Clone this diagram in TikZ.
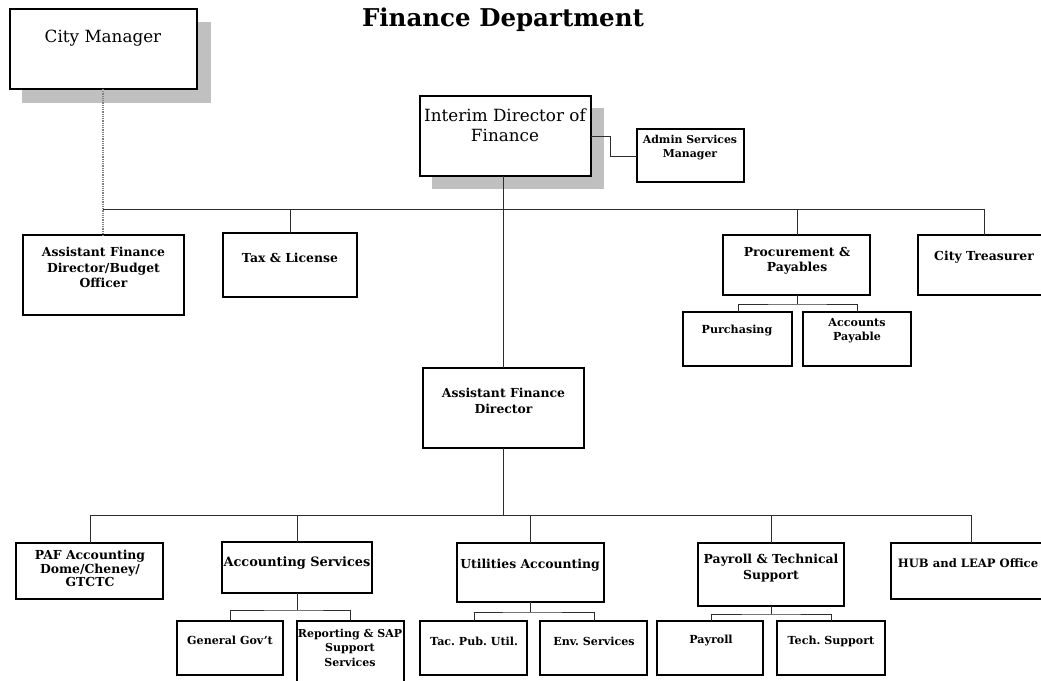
\documentclass[tikz,border=0pt]{standalone}
\usepackage{fontspec}
\setmainfont{DejaVu Serif}
\frenchspacing
\definecolor{shadowgray}{RGB}{192,192,192}
\definecolor{linegray}{RGB}{45,45,45}
\definecolor{dotgray}{RGB}{130,130,130}
\begin{document}
\begin{tikzpicture}[x=1pt,y=-1pt,
  box/.style={draw=black, line width=1.2pt, fill=white, inner sep=0pt, outer sep=0pt, anchor=north west},
  shadowbox/.style={fill=shadowgray, inner sep=0pt, outer sep=0pt, anchor=north west},
  conn/.style={draw=linegray, line width=1pt},
  dotconn/.style={draw=dotgray, line width=1.1pt, dash pattern=on 1pt off 0.8pt},
  bt/.style={font=\bfseries\fontsize{12.4}{15}\selectfont, align=center, inner sep=0pt},
  bts/.style={font=\bfseries\fontsize{11.1}{14}\selectfont, align=center, inner sep=0pt},
  rt/.style={font=\fontsize{16.8}{20}\selectfont, align=center, inner sep=0pt}]
\path[use as bounding box, clip] (0,0) rectangle (1041,680);
\fill[white] (0,0) rectangle (1041,680);

% title
\node[font=\bfseries\fontsize{24.5}{28}\selectfont, inner sep=0pt] (title) at (503,20) {Finance Department};

% shadows
\node[shadowbox, minimum width=189pt, minimum height=81pt] (cmS) at (22,22) {};
\node[shadowbox, minimum width=172pt, minimum height=81pt] (intS) at (432,108) {};

% boxes
\node[box, minimum width=187pt, minimum height=80pt] (cm) at (10,9) {};
\node[box, minimum width=171pt, minimum height=80pt] (int) at (420,96) {};
\node[box, minimum width=107pt, minimum height=53pt] (adm) at (637,129) {};
\node[box, minimum width=161pt, minimum height=80pt] (afdb) at (23,235) {};
\node[box, minimum width=134pt, minimum height=64pt] (tax) at (223,233) {};
\node[box, minimum width=147pt, minimum height=60pt] (proc) at (723,235) {};
\node[box, minimum width=134pt, minimum height=60pt] (treas) at (918,235) {};
\node[box, minimum width=109pt, minimum height=54pt] (purch) at (683,312) {};
\node[box, minimum width=108pt, minimum height=54pt] (ap) at (803,312) {};
\node[box, minimum width=161pt, minimum height=80pt] (afd) at (423,368) {};
\node[box, minimum width=147pt, minimum height=56pt] (paf) at (16,543) {};
\node[box, minimum width=150pt, minimum height=51pt] (as) at (222,542) {};
\node[box, minimum width=106pt, minimum height=54pt] (gg) at (177,621) {};
\node[box, minimum width=107pt, minimum height=74pt] (rep) at (297,621) {};
\node[box, minimum width=147pt, minimum height=59pt] (util) at (457,543) {};
\node[box, minimum width=107pt, minimum height=54pt] (tac) at (420,621) {};
\node[box, minimum width=107pt, minimum height=54pt] (env) at (540,621) {};
\node[box, minimum width=146pt, minimum height=63pt] (pt) at (698,543) {};
\node[box, minimum width=106pt, minimum height=54pt] (pay) at (657,621) {};
\node[box, minimum width=108pt, minimum height=54pt] (tech) at (777,621) {};
\node[box, minimum width=160pt, minimum height=56pt] (hub) at (891,543) {};

% texts
\node[rt] (cmT) at (103,38) {City Manager};
\node[rt] (intT) at (505,125) {Interim Director of\\Finance};
\node[bts, font=\bfseries\fontsize{10.9}{14}\selectfont] (admT) at (690,148) {Admin Services\\Manager};
\node[bt, font=\bfseries\fontsize{12.4}{15.5}\selectfont] (afdbT) at (103.5,267.5) {Assistant Finance\\Director/Budget\\Officer};
\node[bt] (taxT) at (290,258) {Tax \& License};
\node[bt, font=\bfseries\fontsize{12.4}{15}\selectfont] (procT) at (797,260.5) {Procurement \&\\Payables};
\node[bt] (treasT) at (984,257) {City Treasurer};
\node[bts] (purchT) at (737,331) {Purchasing};
\node[bts, font=\bfseries\fontsize{11.1}{14}\selectfont] (apT) at (857,331) {Accounts\\Payable};
\node[bt, font=\bfseries\fontsize{12.4}{16}\selectfont] (afdT) at (503.5,401) {Assistant Finance\\Director};
\node[bt, font=\bfseries\fontsize{12.4}{13.5}\selectfont] (pafT) at (90,568.5) {PAF Accounting\\Dome/Cheney/\\GTCTC};
\node[bt, font=\bfseries\fontsize{12.9}{15}\selectfont] (asT) at (297,563) {Accounting Services};
\node[bts] (ggT) at (230,640) {General Gov't};
\node[bts, font=\bfseries\fontsize{11}{14.5}\selectfont] (repT) at (350,647.5) {Reporting \& SAP\\Support\\Services};
\node[bt] (utilT) at (530,565) {Utilities Accounting};
\node[bts] (tacT) at (474,641) {Tac. Pub. Util.};
\node[bts] (envT) at (594,641) {Env. Services};
\node[bt, font=\bfseries\fontsize{12.4}{16}\selectfont] (ptT) at (771,568) {Payroll \& Technical\\Support};
\node[bts] (payT) at (711,641) {Payroll};
\node[bts] (techT) at (831,641) {Tech. Support};
\node[bt, font=\bfseries\fontsize{11.6}{15}\selectfont] (hubT) at (968,563) {HUB and LEAP Office};

% bus coordinates
\coordinate (busTop) at (103,209);
\coordinate (busBot) at (90,515);
\coordinate (procB) at (797,304);
\coordinate (asB) at (297,610);
\coordinate (utilB) at (530,612);
\coordinate (ptB) at (771,614);
\coordinate (admK) at (610,136);

% connectors
\draw[dotconn] (cm.south -| busTop) -- (afdb.north -| busTop);
\draw[conn] (busTop) -- (busTop -| treasT);
\draw[conn] (tax.north -| taxT) -- (taxT |- busTop);
\draw[conn] (proc.north -| procB) -- (procB |- busTop);
\draw[conn] (treas.north -| treasT) -- (treasT |- busTop);
\draw[conn] (int.south -| afd.north) -- (afd.north);
\draw[conn] (int.east |- admK) -- (admK) |- (adm.west |- 0,156);
% procurement sub
\draw[conn] (proc.south -| procB) -- (procB);
\draw[conn] (purch.north -| 738,0) |- (procB) -| (ap.north -| 857,0);
% assistant finance director
\draw[conn] (afd.south) -- (afd.south |- busBot);
\draw[conn] (busBot) -- (busBot -| hub.north);
\draw[conn] (paf.north -| busBot) -- (busBot);
\draw[conn] (as.north -| asB) -- (asB |- busBot);
\draw[conn] (util.north -| utilB) -- (utilB |- busBot);
\draw[conn] (pt.north -| ptB) -- (ptB |- busBot);
\draw[conn] (hub.north -| hub.center) -- (hub.center |- busBot);
% sub-groups
\draw[conn] (as.south -| asB) -- (asB);
\draw[conn] (gg.north -| ggT) |- (asB) -| (rep.north -| repT);
\draw[conn] (util.south -| utilB) -- (utilB);
\draw[conn] (tac.north -| tacT) |- (utilB) -| (env.north -| envT);
\draw[conn] (pt.south -| ptB) -- (ptB);
\draw[conn] (pay.north -| payT) |- (ptB) -| (tech.north -| techT);
\end{tikzpicture}
\end{document}
